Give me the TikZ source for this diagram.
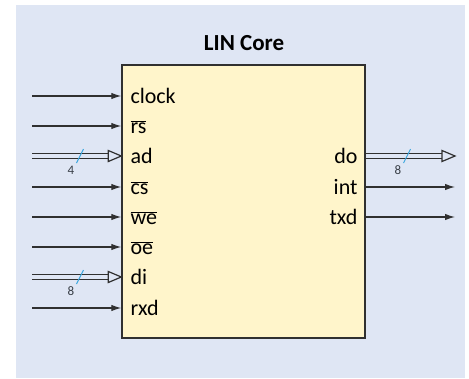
\documentclass[tikz,border=0pt]{standalone}
\usepackage{fontspec}
\setmainfont{Carlito}
\usetikzlibrary{arrows.meta,calc}
\definecolor{panel}{HTML}{DFE6F4}
\definecolor{corefill}{HTML}{FFF5CB}
\definecolor{wire}{HTML}{303030}
\definecolor{slashc}{HTML}{3AA6DE}
\definecolor{widthc}{HTML}{383E46}
\begin{document}
\begin{tikzpicture}[x=1pt,y=-1pt,
  wirestyle/.style={draw=wire, line width=1.2pt},
  sig/.style={wirestyle, -{Latex[length=10pt,width=6.5pt]}},
  pinlbl/.style={font=\fontsize{22}{24}\selectfont, inner sep=0pt, text=black},
  buswidth/.style={font=\fontsize{13}{14}\selectfont, inner sep=0pt, text=widthc},
  busslash/.style={draw=slashc, line width=0.9pt}
]
\useasboundingbox (0,0) rectangle (469,378);
\fill[panel] (16,5) rectangle (465,378);

% core block
\node (core) [draw=wire, line width=1.4pt, fill=corefill, minimum width=243pt,
  minimum height=273pt, inner sep=0pt] at (243.5,201.5) {};
\node (title) [font=\fontsize{23}{26}\selectfont\bfseries, inner sep=0pt] at (244,43) {LIN Core};

% input pins
\foreach \nm/\txt/\y in {clock/clock/96, rs/$\overline{\mbox{rs}}$/126, ad/ad/156,
    cs/$\overline{\mbox{cs}}$/187, we/$\overline{\mbox{we}}$/217, oe/$\overline{\mbox{oe}}$/247,
    di/di/277, rxd/rxd/308}{
  \coordinate (src-\nm) at (32,\y);
  \coordinate (pin-\nm) at (core.west |- src-\nm);
  \node (lbl-\nm) [pinlbl, anchor=base west] at ($(pin-\nm)+(9,7.5)$) {\txt};
}
\foreach \nm in {clock,rs,cs,we,oe,rxd}{
  \draw[sig] (src-\nm) -- (pin-\nm);
}

% output pins
\foreach \nm/\y in {do/156, int/187, txd/217}{
  \coordinate (pin-\nm) at (core.east |- 0,\y);
  \coordinate (dst-\nm) at (455,\y);
  \node (lbl-\nm) [pinlbl, anchor=base east] at ($(pin-\nm)+(-8,7.5)$) {\nm};
}
\foreach \nm in {int,txd}{
  \draw[sig] (pin-\nm) -- (dst-\nm);
}

% buses: double line with open head
\foreach \a/\b in {src-ad/pin-ad, src-di/pin-di, pin-do/dst-do}{
  \draw[wirestyle] ($(\a)+(0,-2.5)$) -- ($(\b)+(-12,-2.5)$);
  \draw[wirestyle] ($(\a)+(0,2.5)$) -- ($(\b)+(-12,2.5)$);
  \draw[wirestyle, fill=panel, line join=miter] ($(\b)+(-13,-5.5)$) -- (\b) -- ($(\b)+(-13,5.5)$) -- cycle;
}

% bus width marks
\foreach \nm/\x/\w in {ad/80/4, di/80/8, do/407/8}{
  \draw[busslash] ($(\x,0 |- pin-\nm)+(-3.5,7)$) -- ($(\x,0 |- pin-\nm)+(3.5,-7)$);
  \node (w-\nm) [buswidth] at ($(\x,0 |- pin-\nm)+(-9,14)$) {\w};
}
\end{tikzpicture}
\end{document}
